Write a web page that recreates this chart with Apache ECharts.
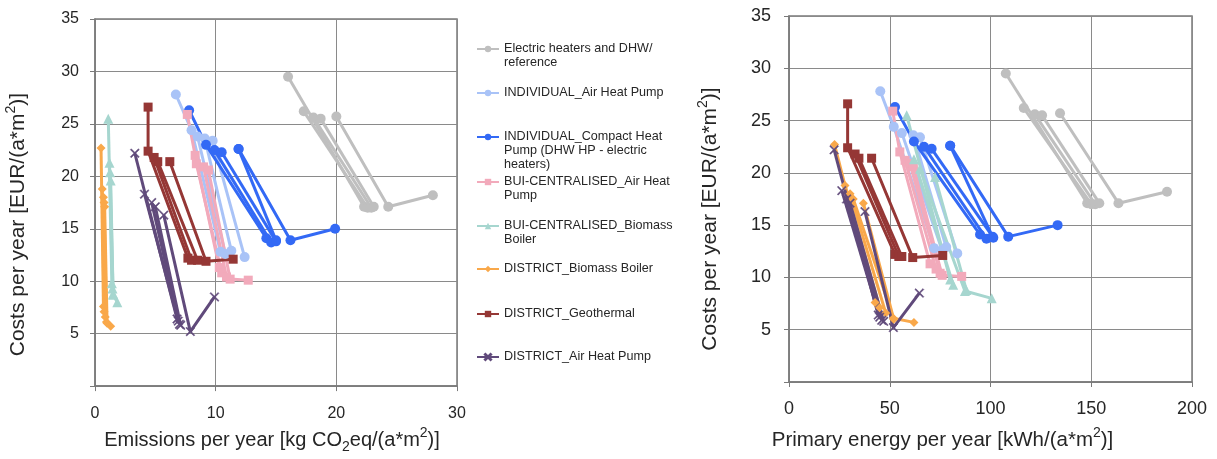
<!DOCTYPE html>
<html><head><meta charset="utf-8">
<script src="https://cdn.jsdelivr.net/npm/echarts@6/dist/echarts.min.js"></script>
<style>html,body{margin:0;padding:0;background:#fff}#c{width:1217px;height:459px}</style>
</head><body><div id="c"></div>
<script>
// Each line: points [emissions kgCO2eq/(a*m2), primary energy kWh/(a*m2), cost EUR/(a*m2)]
const electricHeaters = [
  [[16.0,107.6,29.5],[22.3,148,17.1]],
  [[17.3,116.5,26.2],[22.6,150,17.0]],
  [[18.1,122,25.6],[22.9,152,17.0]],
  [[18.7,125.6,25.5],[23.1,154,17.1]],
  [[20.0,134.5,25.7],[24.3,163.5,17.1],[28.0,187.6,18.2]]
];
const indAirHP = [
  [[6.7,45.3,27.8],[8.0,52,24.4],[10.4,72,12.8]],
  [[8.5,56,23.8],[10.8,76,12.6]],
  [[9.1,61.7,23.6],[11.3,78,12.9]],
  [[9.75,65,23.4],[12.4,83.5,12.3]]
];
const indCompactHP = [
  [[7.8,52.6,26.3],[9.2,62,23.0],[14.2,94.8,14.1]],
  [[9.9,67,22.5],[14.6,98,13.7]],
  [[10.5,70.8,22.3],[15.0,101.4,13.8]],
  [[11.9,80,22.6],[15.0,101,13.9]],
  [[11.9,80,22.6],[16.2,108.8,13.9],[19.9,133.3,15.0]]
];
const buiAirHP = [
  [[7.65,51.5,25.9],[8.3,55,22.0],[10.3,70,11.3]],
  [[8.4,57.6,21.2],[10.5,73,10.8]],
  [[9.0,60,20.9],[10.9,75,10.4]],
  [[9.4,61.7,20.6],[11.2,76,10.2],[12.7,85.7,10.1]]
];
const buiBiomass = [
  [[1.1,58.4,25.5],[1.4,80,9.8]],
  [[1.2,62,21.3],[1.45,81.5,9.3]],
  [[1.25,65,20.4],[1.5,87.3,8.7],[1.85,100.6,8.0]],
  [[1.3,72.5,19.6],[1.5,88,8.8]]
];
const districtBiomass = [
  [[0.5,22.6,22.7],[0.7,42.7,7.6]],
  [[0.6,27.8,18.8],[0.75,45,7.1]],
  [[0.7,30.3,18.0],[0.85,48,6.6]],
  [[0.75,31.9,17.5],[0.95,51.8,6.1],[1.3,62,5.7]],
  [[0.8,36.9,17.1],[1.0,52,6.0]]
];
const districtGeo = [
  [[4.4,29.1,26.6],[4.4,29.1,22.4],[7.7,52.6,12.2]],
  [[4.9,32.8,21.8],[8.0,54.5,12.0]],
  [[5.2,34.7,21.4],[8.5,56,12.0]],
  [[6.2,41,21.4],[9.2,61.4,11.9],[11.45,76.3,12.1]]
];
const districtAirHP = [
  [[3.3,22.4,22.2],[6.8,44.3,6.4]],
  [[4.1,26.2,18.3],[6.9,45,6.2]],
  [[4.7,28.6,17.5],[7.0,46,5.9]],
  [[5.0,30.3,17.1],[7.1,47,5.8]],
  [[5.7,37.7,16.3],[7.9,51.8,5.2],[9.9,64.7,8.5]]
];
const yTicks = [0,5,10,15,20,25,30,35];
const xTicksLeft = [0,10,20,30];
const xTicksRight = [0,50,100,150,200];

const FONT = '"Liberation Sans", Arial, sans-serif';
const TXT = '#262626';
const XSYM = 'path://M0,1L1,0L5,4L9,0L10,1L6,5L10,9L9,10L5,6L1,10L0,9L4,5Z';

const techs = [
  {name:'Electric heaters and DHW/reference', label:'Electric heaters and DHW/\nreference', lines:electricHeaters, color:'#BFBFBF', symbol:'circle', size:10, ly:49},
  {name:'INDIVIDUAL_Air Heat Pump', label:'INDIVIDUAL_Air Heat Pump', lines:indAirHP, color:'#A9C3F7', symbol:'circle', size:10, ly:93},
  {name:'INDIVIDUAL_Compact Heat Pump (DHW HP - electric heaters)', label:'INDIVIDUAL_Compact Heat\nPump (DHW HP - electric\nheaters)', lines:indCompactHP, color:'#3369F5', symbol:'circle', size:10, ly:137},
  {name:'BUI-CENTRALISED_Air Heat Pump', label:'BUI-CENTRALISED_Air Heat\nPump', lines:buiAirHP, color:'#F2AABB', symbol:'rect', size:9, ly:182},
  {name:'BUI-CENTRALISED_Biomass Boiler', label:'BUI-CENTRALISED_Biomass\nBoiler', lines:buiBiomass, color:'#A6D6CF', symbol:'triangle', size:10, ly:226},
  {name:'DISTRICT_Biomass Boiler', label:'DISTRICT_Biomass Boiler', lines:districtBiomass, color:'#F9A84A', symbol:'diamond', size:9, ly:269},
  {name:'DISTRICT_Geothermal', label:'DISTRICT_Geothermal', lines:districtGeo, color:'#953735', symbol:'rect', size:9, ly:314},
  {name:'DISTRICT_Air Heat Pump', label:'DISTRICT_Air Heat Pump', lines:districtAirHP, color:'#604A7B', symbol:XSYM, size:9, ly:357}
];

const series = [];
techs.forEach(t => {
  [0,1].forEach(p => {
    t.lines.forEach(line => {
      series.push({
        type:'line', name:t.name, xAxisIndex:p, yAxisIndex:p,
        data: line.map(pt => [p===0 ? pt[0] : pt[1], pt[2]]),
        symbol:t.symbol, symbolSize:t.size, showSymbol:true,
        lineStyle:{color:t.color, width:3},
        itemStyle:{color:t.color, borderColor:t.color, borderWidth: t.symbol===XSYM ? 0.5 : 0},
        animation:false, silent:true
      });
    });
  });
});

// first text line of each legend entry sits level with its icon:
// prepend blank lines so the centred text block has line 1 in the middle
const legends = techs.map(t => {
  const n = t.label.split('\n').length;
  const txt = '\n'.repeat(n-1) + t.label;
  const H = (2*n - 1) * 14;
  return {
    data:[t.name], orient:'vertical', left:476, top: t.ly - H/2, padding:0,
    itemWidth:22, itemHeight:8, selectedMode:false,
    formatter: () => txt,
    textStyle:{fontFamily:FONT, fontSize:12.6, lineHeight:14, color:TXT}
  };
});

function titleText(before, sub, mid, sup, after, size){
  return {
    text: '{t|'+before+'}' + (sub? '{s|'+sub+'}' : '') + '{t|'+mid+'}{p|'+sup+'}{t|'+after+'}',
    rich: {
      t:{fontFamily:FONT, fontSize:size, color:TXT, lineHeight:size+8},
      s:{fontFamily:FONT, fontSize:Math.round(size*0.68), color:TXT, verticalAlign:'bottom'},
      p:{fontFamily:FONT, fontSize:Math.round(size*0.68), color:TXT, verticalAlign:'top'}
    }
  };
}
const nLX = titleText('Emissions per year [kg CO','2','eq/(a*m','2',')]',20);
const nRX = titleText('Primary energy per year [kWh/(a*m','','','2',')]',20.5);
const nLY = titleText('Costs per year [EUR/(a*m','','','2',')]',21);
const nRY = titleText('Costs per year [EUR/(a*m','','','2',')]',21);

function axisCommon(fs){
  return {
    axisLine:{show:true, onZero:false, lineStyle:{color:'#7a7a7a', width:1.5}},
    axisTick:{show:true, inside:false, length:5, lineStyle:{color:'#7a7a7a'}},
    splitLine:{show:true, lineStyle:{color:'#8a8a8a', width:1}},
    axisLabel:{fontFamily:FONT, fontSize:fs, color:TXT}
  };
}
function mk(base, extra){ const o = JSON.parse(JSON.stringify(base)); return Object.assign(o, extra, {axisLabel:Object.assign(o.axisLabel, extra.axisLabel||{})}); }

const option = {
  backgroundColor:'#fff',
  animation:false,
  grid:[
    {left:95, top:19, width:362, height:371, show:true, borderColor:'#7a7a7a', borderWidth:1.5},
    {left:789, top:16, width:403, height:366, show:true, borderColor:'#7a7a7a', borderWidth:1.5}
  ],
  xAxis:[
    mk(axisCommon(16), {type:'value', gridIndex:0, min:xTicksLeft[0], max:xTicksLeft[xTicksLeft.length-1], interval:10,
      axisLabel:{margin:19},
      name:nLX.text, nameLocation:'middle', nameGap:39, nameTextStyle:{rich:nLX.rich, padding:[0,8,0,0]}}),
    mk(axisCommon(18), {type:'value', gridIndex:1, min:xTicksRight[0], max:xTicksRight[xTicksRight.length-1], interval:50,
      axisLabel:{margin:18},
      name:nRX.text, nameLocation:'middle', nameGap:44, nameTextStyle:{rich:nRX.rich, padding:[0,96,0,0]}})
  ],
  yAxis:[
    mk(axisCommon(16), {type:'value', gridIndex:0, min:yTicks[0], max:yTicks[yTicks.length-1], interval:5,
      axisLabel:{margin:16, formatter:v => v===0 ? '' : String(v)},
      name:nLY.text, nameLocation:'middle', nameGap:62, nameTextStyle:{rich:nLY.rich, padding:[0,44,0,0]}}),
    mk(axisCommon(18), {type:'value', gridIndex:1, min:yTicks[0], max:yTicks[yTicks.length-1], interval:5,
      axisLabel:{margin:18, formatter:v => v===0 ? '' : String(v)},
      name:nRY.text, nameLocation:'middle', nameGap:64, nameTextStyle:{rich:nRY.rich, padding:[0,40,0,0]}})
  ],
  legend: legends,
  series: series
};
const chart = echarts.init(document.getElementById('c'), null, {renderer:'canvas'});
chart.setOption(option);
</script></body></html>
